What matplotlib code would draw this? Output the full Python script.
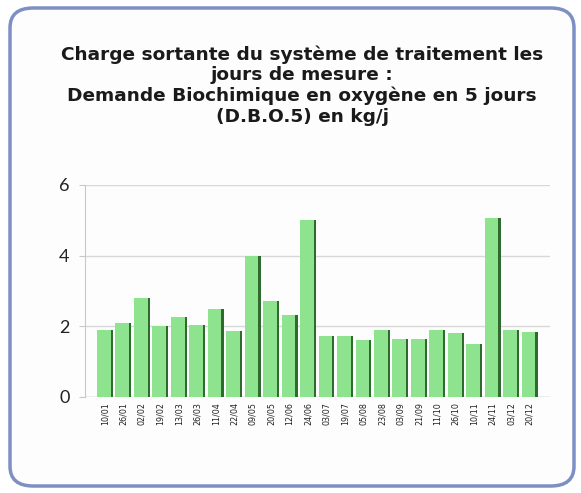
import matplotlib
matplotlib.use("Agg")
import matplotlib.pyplot as plt
from matplotlib.patches import FancyBboxPatch
import numpy as np

dates = ["10/01", "26/01", "02/02", "19/02", "13/03", "26/03", "11/04", "22/04",
         "09/05", "20/05", "12/06", "24/06", "03/07", "19/07", "05/08", "23/08",
         "03/09", "21/09", "11/10", "26/10", "10/11", "24/11", "03/12", "20/12"]
dbo5 = [1.9, 2.1, 2.8, 2.0, 2.27, 2.04, 2.5, 1.86, 3.98, 2.7, 2.32, 5.0,
        1.72, 1.72, 1.6, 1.88, 1.64, 1.64, 1.88, 1.8, 1.5, 5.05, 1.88, 1.83]
yticks = [0, 2, 4, 6]
title = ("Charge sortante du système de traitement les\njours de mesure :\n"
         "Demande Biochimique en oxygène en 5 jours\n(D.B.O.5) en kg/j")

fig = plt.figure(figsize=(5.81, 4.93), dpi=100)
fig.patch.set_facecolor("white")

# rounded frame
frame = FancyBboxPatch((10/581, 7/493), 564/581, 478/493,
                       boxstyle="round,pad=0,rounding_size=0.04",
                       transform=fig.transFigure, facecolor="#fdfdfe",
                       edgecolor="#7e8fc4", linewidth=2.5, zorder=-10)
fig.patches.append(frame)

fig.text(0.52, 0.908, title, ha="center", va="top", fontsize=13.3,
         fontweight="bold", family="DejaVu Sans", color="#1a1a1a",
         linespacing=1.17, zorder=5)

ax = fig.add_axes([85/581, 0.195, 465/581, 0.43], zorder=2)
ax.set_facecolor("none")
x = np.arange(len(dates))
w = 0.86
ax.bar(x, dbo5, width=w, color="#8ee48e", edgecolor="none", zorder=3)
# darker right side for 3D look
ax.bar(x + w/2 - 0.06, dbo5, width=0.12, color="#2f6a2f", edgecolor="none", zorder=4)

ax.set_ylim(0, 6)
ax.set_xlim(-1.08, 24.1)
ax.set_yticks(yticks)
ax.set_yticklabels([str(t) for t in yticks], fontsize=13, family="Lato",
                   color="#222222")
ax.set_xticks(x)
ax.set_xticklabels(dates, rotation=90, fontsize=5.8, color="#222222")
ax.yaxis.grid(True, color="#d8d8d8", linewidth=1, zorder=0)
for s in ["top", "right", "bottom"]:
    ax.spines[s].set_visible(False)
ax.spines["left"].set_color("#c8c8c8")
ax.axhline(0, color="#c8c8c8", linewidth=1, zorder=2)
ax.tick_params(axis="y", length=4, color="#c8c8c8", pad=7)
ax.tick_params(axis="x", length=0, pad=4)

fig.savefig("out.png", dpi=100)
